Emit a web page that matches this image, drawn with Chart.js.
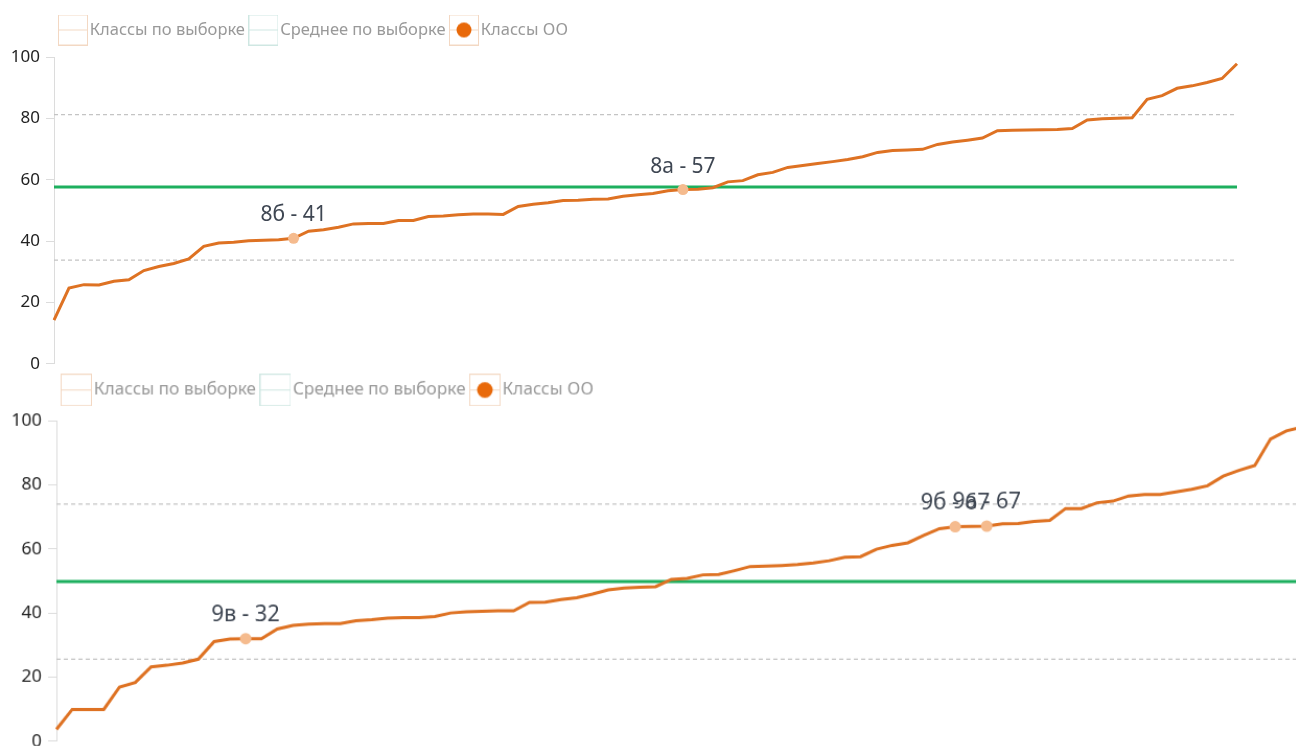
<!DOCTYPE html>
<html><head><meta charset="utf-8">
<script src="https://cdn.jsdelivr.net/npm/chart.js@4"></script>
<style>
html,body{margin:0;padding:0;background:#fff;overflow:hidden;width:1296px;height:746px;position:relative;}
canvas{display:block;}
#c1{position:absolute;left:0;top:0;}
#c2{position:absolute;left:0;top:361px;transform:scale(1.045);transform-origin:0 0;}
</style></head><body>
<canvas id="c1" width="1296" height="380"></canvas>
<canvas id="c2" width="1305" height="380"></canvas>
<script>
// ---- data: top chart (8th grade) ----
const sampleTop = [14.2, 24.7, 25.8, 25.7, 26.9, 27.4, 30.4, 31.7, 32.7, 34.2,
  38.3, 39.4, 39.6, 40.1, 40.3, 40.4, 40.9, 43.2, 43.7, 44.5,
  45.6, 45.7, 45.7, 46.7, 46.7, 48.0, 48.2, 48.6, 48.8, 48.8,
  48.7, 51.3, 52.0, 52.5, 53.2, 53.3, 53.6, 53.7, 54.6, 55.1,
  55.5, 56.4, 56.8, 56.9, 57.4, 59.3, 59.7, 61.6, 62.4, 64.0,
  64.6, 65.3, 65.9, 66.6, 67.5, 68.9, 69.5, 69.7, 69.9, 71.5,
  72.3, 72.9, 73.6, 76.0, 76.1, 76.2, 76.3, 76.4, 76.7, 79.5,
  79.9, 80.0, 80.2, 86.2, 87.4, 89.8, 90.6, 91.7, 93.0, 97.8];
const meanTop = 57.6;
const upperTop = 81.2;
const lowerTop = 33.8;
const schoolNamesTop = ['8б', '8а'];
const schoolIdxTop = [16, 42];

// ---- data: bottom chart (9th grade) ----
const sampleBottom = [3.7, 9.9, 9.9, 9.9, 16.9, 18.3, 23.2, 23.7, 24.4, 25.6,
  31.1, 31.9, 32.0, 32.0, 35.0, 36.1, 36.5, 36.7, 36.7, 37.6,
  37.9, 38.4, 38.6, 38.6, 38.9, 40.0, 40.4, 40.5, 40.7, 40.7,
  43.3, 43.4, 44.2, 44.8, 45.9, 47.2, 47.8, 48.0, 48.2, 50.5,
  50.8, 51.9, 52.0, 53.2, 54.5, 54.6, 54.8, 55.1, 55.6, 56.3,
  57.4, 57.6, 59.9, 61.1, 61.9, 64.2, 66.3, 66.9, 67.0, 67.1,
  67.8, 67.9, 68.6, 68.9, 72.6, 72.6, 74.4, 74.9, 76.5, 77.0,
  77.0, 77.8, 78.6, 79.7, 82.7, 84.5, 86.0, 94.3, 96.8, 98.0];
const meanBottom = 49.8;
const upperBottom = 74.0;
const lowerBottom = 25.6;
const schoolNamesBottom = ['9в', '9б', '9а'];
const schoolIdxBottom = [12, 57, 59];

const yTicks = [0, 20, 40, 60, 80, 100];
const legendNames = ['Классы по выборке', 'Среднее по выборке', 'Классы ОО'];

Chart.defaults.font.family = '"Noto Sans", "Open Sans", sans-serif';

function makeIcon(frameColor, dot) {
  const c = document.createElement('canvas');
  c.width = 30; c.height = 31;
  const g = c.getContext('2d');
  g.strokeStyle = frameColor; g.lineWidth = 1;
  g.strokeRect(0.5, 0.5, 29, 30);
  g.beginPath(); g.moveTo(0, 15.5); g.lineTo(30, 15.5); g.stroke();
  if (dot) {
    g.fillStyle = dot;
    g.beginPath(); g.arc(15, 15.5, 7.5, 0, Math.PI * 2); g.fill();
  }
  return c;
}
const icons = [makeIcon('#f3d8c3'), makeIcon('#cfe7e2'), makeIcon('#f3d8c3', '#e8690a')];

const pointLabels = {
  id: 'pointLabels',
  afterDatasetsDraw(chart) {
    const ctx = chart.ctx;
    chart.data.datasets.forEach((ds, di) => {
      if (!ds.names) return;
      const meta = chart.getDatasetMeta(di);
      ds.data.forEach((v, i) => {
        if (v === null) return;
        const el = meta.data[i];
        const k = ds.idx.indexOf(i);
        ctx.save();
        ctx.font = '21px "Noto Sans", sans-serif';
        ctx.fillStyle = '#3e4652';
        ctx.textAlign = 'center';
        ctx.textBaseline = 'middle';
        ctx.fillText(ds.names[k] + ' - ' + Math.round(v), el.x, el.y - 23);
        ctx.restore();
      });
    });
  }
};

function build(canvas, values, mean, upper, lower, names, idx, lay) {
  const labels = values.map((_, i) => String(i + 1));
  const schoolData = values.map((v, i) => idx.includes(i) ? v : null);
  const legendFix = {
    id: 'legendFix',
    beforeInit(chart) {
      const lg = chart.legend;
      const fit = lg.fit;
      lg.fit = function () { fit.call(this); this.height += lay.extra; };
    },
    afterLayout(chart) { chart.legend.left = lay.legendLeft; }
  };
  return new Chart(canvas, {
    type: 'line',
    data: {
      labels: labels,
      datasets: [
        { label: legendNames[0], data: values, borderColor: '#de7223', borderWidth: 3,
          pointRadius: 0, fill: false, tension: 0, order: 1 },
        { label: legendNames[1], data: labels.map(() => mean), borderColor: '#1daf5e', borderWidth: 3,
          pointRadius: 0, fill: false, order: 2 },
        { label: legendNames[2], data: schoolData, showLine: false, pointRadius: 5.5,
          pointBackgroundColor: '#f5bb8e', pointBorderColor: '#f5bb8e', pointBorderWidth: 0,
          order: 0, names: names, idx: idx },
        { label: 'upper', data: labels.map(() => upper), borderColor: '#c4c4c4', borderWidth: 1.2,
          borderDash: [4, 3], pointRadius: 0, fill: false, order: 3, noLegend: true },
        { label: 'lower', data: labels.map(() => lower), borderColor: '#c4c4c4', borderWidth: 1.2,
          borderDash: [4, 3], pointRadius: 0, fill: false, order: 3, noLegend: true }
      ]
    },
    options: {
      responsive: false,
      animation: false,
      devicePixelRatio: 1,
      layout: { padding: { top: lay.top, right: 59, left: 0, bottom: 0 } },
      scales: {
        x: { display: false },
        y: {
          min: 0, max: 100,
          afterBuildTicks: s => { s.ticks = yTicks.map(v => ({ value: v })); },
          afterFit: s => { s.width = 54; },
          ticks: { color: '#222', font: { size: 17 }, padding: 6 },
          grid: { drawOnChartArea: false, color: '#dcdcdc', tickLength: 8 },
          border: { color: '#dcdcdc' }
        }
      },
      plugins: {
        tooltip: { enabled: false },
        legend: {
          display: true, align: 'start',
          labels: {
            usePointStyle: true, pointStyleWidth: 17, padding: 10,
            color: '#999', font: { size: 16.5 },
            generateLabels: (chart) => chart.data.datasets
              .map((ds, i) => ({ ds, i }))
              .filter(o => !o.ds.noLegend)
              .map(o => ({
                text: o.ds.label, fillStyle: 'transparent', strokeStyle: 'transparent',
                lineWidth: 0, pointStyle: icons[o.i], hidden: false, datasetIndex: o.i,
                fontColor: '#999'
              }))
          }
        }
      }
    },
    plugins: [legendFix, pointLabels]
  });
}

build(document.getElementById('c1'), sampleTop, meanTop, upperTop, lowerTop,
  schoolNamesTop, schoolIdxTop, { top: 11.75, extra: 8.75, legendLeft: 54.5 });
build(document.getElementById('c2'), sampleBottom, meanBottom, upperBottom, lowerBottom,
  schoolNamesBottom, schoolIdxBottom, { top: 9.5, extra: 11.1, legendLeft: 54.5 });
</script>
</body></html>
